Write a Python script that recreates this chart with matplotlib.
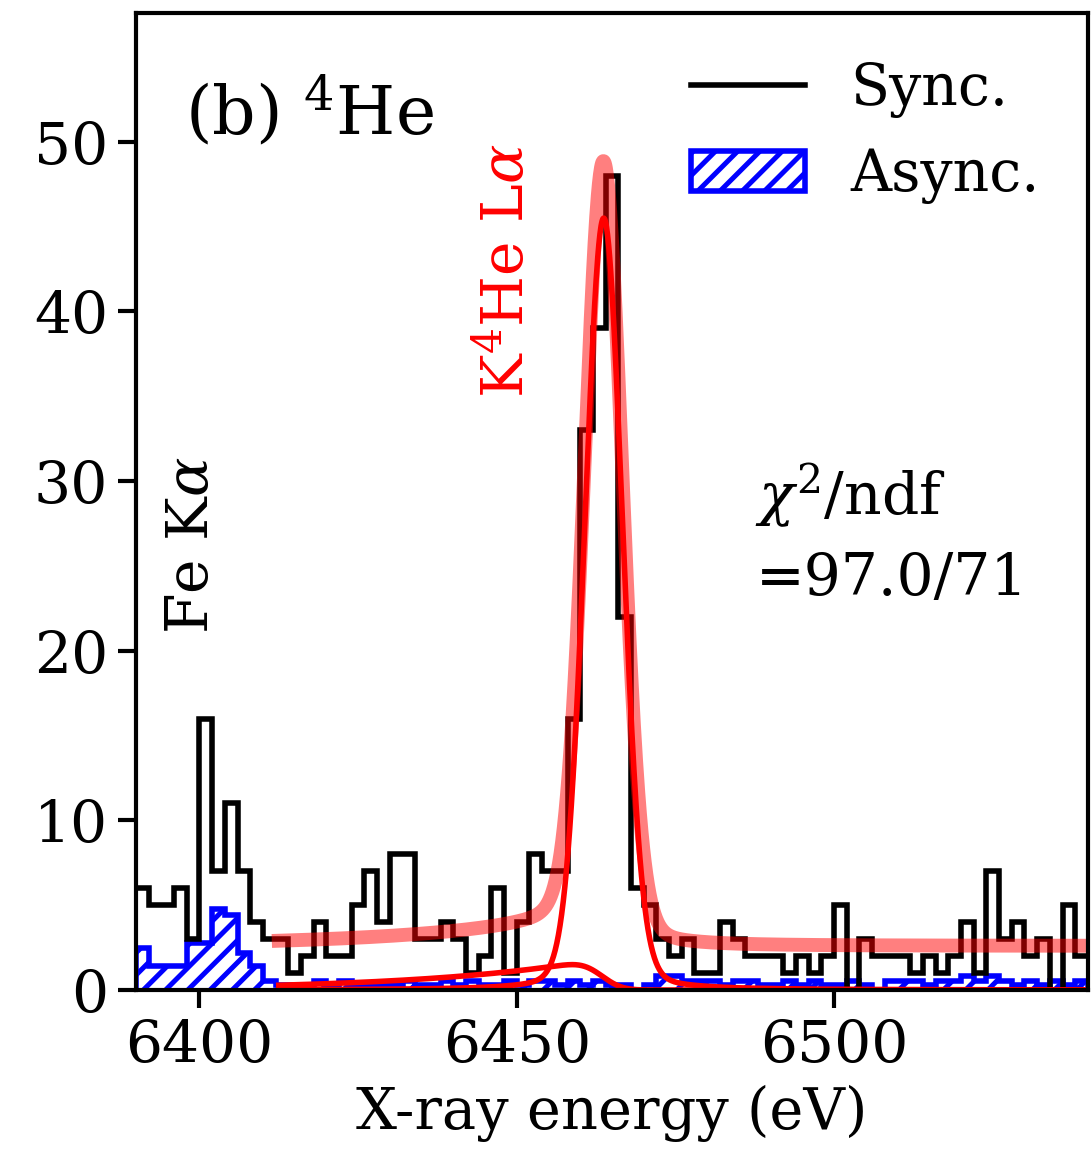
import math
import numpy as np
import matplotlib
matplotlib.use("Agg")
import matplotlib.pyplot as plt

plt.rcParams['font.family'] = ['DejaVu Serif']
plt.rcParams['mathtext.fontset'] = 'dejavuserif'
plt.rcParams['font.size'] = 21
plt.rcParams['hatch.linewidth'] = 1.8

# 2 eV bins from 6390 to 6540 eV
bin_lo = 6390
bin_w = 2
sync_counts = [
    6, 5, 5, 6, 3, 16, 7, 11, 7, 4,
    3, 3, 1, 2, 4, 2, 2, 5, 7, 4,
    8, 8, 3, 3, 4, 3, 1, 2, 6, 1,
    4, 8, 7, 7, 16, 33, 39, 48, 22, 6,
    5, 3, 2, 3, 1, 1, 4, 3, 2, 2,
    2, 1, 2, 1, 2, 5, 0, 3, 2, 2,
    2, 1, 2, 1, 2, 4, 1, 7, 3, 4,
    2, 3, 0, 5, 2]
async_counts = [
    2.5, 1.4, 1.4, 1.4, 2.75, 2.75, 4.8, 4.4, 2.2, 1.4,
    0.55, 0.27, 0.27, 0.27, 0.55, 0.27, 0.55, 0.27, 0.27, 0.27,
    0.27, 0.55, 0.27, 0.27, 0.55, 0.27, 0.55, 0.27, 0.27, 0.55,
    0.27, 0.55, 0.55, 0.27, 0.55, 0.27, 0.55, 0.27, 0.27, 0.0,
    0.27, 0.82, 0.82, 0.55, 0.55, 0.55, 0.27, 0.55, 0.55, 0.27,
    0.27, 0.55, 0.27, 0.55, 0.27, 0.27, 0.55, 0.27, 0.0, 0.55,
    0.55, 0.55, 0.27, 0.55, 0.55, 0.82, 0.55, 0.82, 0.55, 0.27,
    0.55, 0.27, 0.55, 0.27, 0.55]
edges = bin_lo + bin_w * np.arange(len(sync_counts) + 1)

# fit result (pseudo-Voigt peak + low-energy tail + flat background)
fit_range = (6412.5, 6540)
peak_pos = 6463.7
peak_amp = 45.5
peak_hwhm = 3.5
peak_eta = 0.11
tail_amp = 1.85
tail_pos = 6463.3
tail_slope = 27.0
tail_sigma = 2.5
bkg = 2.6

xf = np.linspace(fit_range[0], fit_range[1], 1500)
d = xf - peak_pos
sig_g = peak_hwhm / math.sqrt(2 * math.log(2))
peak = peak_amp * (peak_eta / (1 + (d / peak_hwhm) ** 2)
                   + (1 - peak_eta) * np.exp(-d ** 2 / (2 * sig_g ** 2)))
dt = xf - tail_pos
erfc_v = np.array([math.erfc(v) for v in (dt / (math.sqrt(2) * tail_sigma)
                                          + tail_sigma / (math.sqrt(2) * tail_slope))])
tail = tail_amp * np.exp(dt / tail_slope) * 0.5 * erfc_v
total = peak + tail + bkg

fig = plt.figure(figsize=(5.46, 5.81), dpi=200)
ax = fig.add_axes([0.1245, 0.148, 0.8718, 0.841])

ax.stairs(async_counts, edges, fill=True, hatch='///', facecolor='none',
          edgecolor='blue', lw=2.0, label='Async.')
ax.stairs(sync_counts, edges, baseline=None, color='black', lw=2.0, label='Sync.')
ax.plot(xf, total, color='red', alpha=0.5, lw=5)
ax.plot(xf, peak, color='red', lw=2.0)
ax.plot(xf, tail, color='red', lw=2.0)

ax.set_xlim(6390, 6540)
ax.set_ylim(0, 57.6)
ax.set_xticks([6400, 6450, 6500])
ax.set_yticks([0, 10, 20, 30, 40, 50])
ax.set_xlabel('X-ray energy (eV)', fontsize=20.7)
for s in ax.spines.values():
    s.set_linewidth(1.5)
ax.tick_params(width=1.5, length=6.5)

ax.text(0.051, 0.875, '(b) $^4$He', transform=ax.transAxes, fontsize=24.5,
        va='baseline')
ax.text(6398.8, 21.0, r'Fe K$\alpha$', rotation=90, ha='center', va='bottom')
ax.text(6448.3, 34.9, r'K$^4$He L$\alpha$', rotation=90, ha='center',
        va='bottom', color='red')
ax.text(6487.6, 28.0, r'$\chi^2$/ndf', va='baseline')
ax.text(6487.6, 23.3, '=97.0/71', va='baseline')

h, l = ax.get_legend_handles_labels()
ax.legend(h[::-1], l[::-1], loc='upper right', frameon=False, fontsize=20.5,
          borderaxespad=0.45)

fig.savefig('out.png', dpi=200)
